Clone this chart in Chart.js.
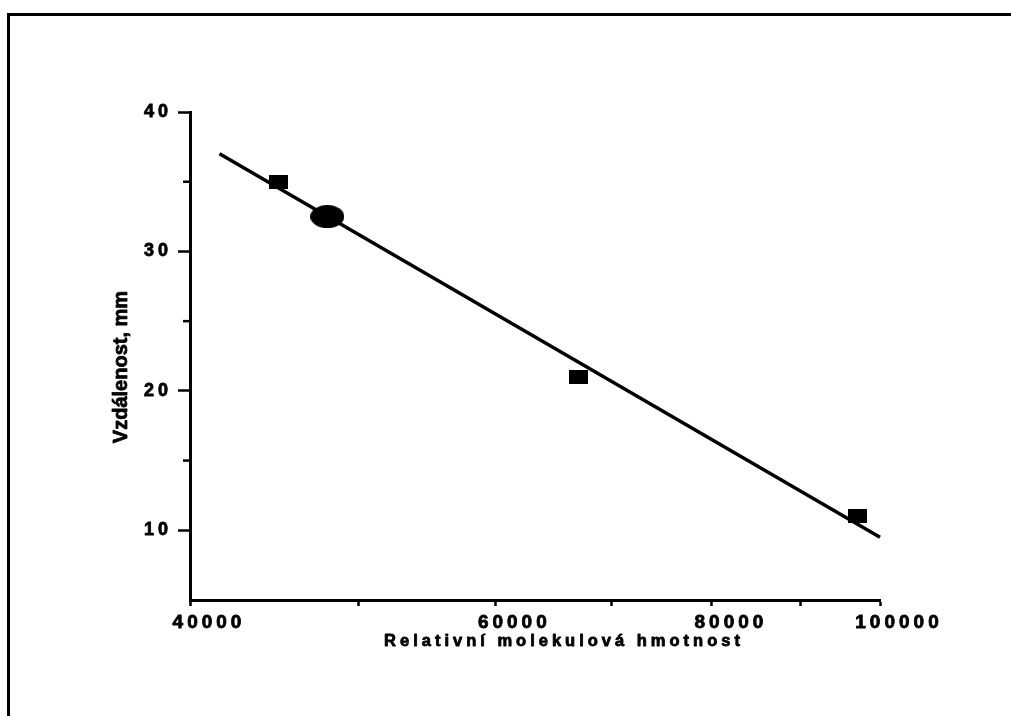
<!DOCTYPE html>
<html>
<head>
<meta charset="utf-8">
<script src="https://cdn.jsdelivr.net/npm/chart.js@4.4.0/dist/chart.umd.min.js"></script>
<style>
    html, body { margin: 0; padding: 0; background: #fff; }
</style>
</head>
<body>
<canvas id="myGraph" width="1011" height="716"></canvas>
<script>
// Standards (squares)
var standardMass = [45000, 67000, 97000];
var standardDist = [35, 21, 11];

// Unknown sample (ellipse)
var sampleMass = [48000];
var sampleDist = [32.5];

// Calibration line end points
var fitMass = [41600, 100000];
var fitDist = [37.0, 9.5];

// Ticks
var xMajor = [40000, 60000, 80000, 100000];
var xMinor = [50000, 70000, 90000];
var yMajor = [10, 20, 30, 40];
var yMinor = [15, 25, 35];

// Axis titles
var xTitle = 'Relativní molekulová hmotnost';
var yTitle = 'Vzdálenost, mm';

var family = '"Liberation Sans", Arial, sans-serif';

// Marker images
var makeMarker = (w, h, round) => {
    var c = document.createElement('canvas');
    c.width = w;
    c.height = h;
    var g = c.getContext('2d');
    g.fillStyle = '#000';
    if (round) {
        g.beginPath();
        g.ellipse(w / 2, h / 2, w / 2, h / 2, 0, 0, Math.PI * 2);
        g.fill();
    } else {
        g.fillRect(0, 0, w, h);
    }
    return c;
};

// Frame, minor y ticks, axis titles
var paperPlugin = {
    id: 'paper',
    beforeDraw: chart => {
        chart.ctx.letterSpacing = '4px';
    },
    afterDraw: chart => {
        var ctx = chart.ctx;
        var ys = chart.scales.y;
        ctx.save();
        ctx.letterSpacing = '0px';
        ctx.strokeStyle = '#000';
        ctx.lineWidth = 3;
        ctx.strokeRect(8.5, 14.5, 1100, 800);

        ctx.lineWidth = 2.5;
        yMinor.forEach(v => {
            var py = ys.getPixelForValue(v);
            ctx.beginPath();
            ctx.moveTo(ys.right - 7, py);
            ctx.lineTo(ys.right, py);
            ctx.stroke();
        });

        // heavier text like the scan
        ctx.fillStyle = '#000';
        ctx.lineWidth = 0.8;
        ctx.lineJoin = 'round';
        ctx.font = 'bold 16.5px ' + family;
        ctx.letterSpacing = '4px';
        ctx.textAlign = 'center';
        ctx.textBaseline = 'alphabetic';
        ctx.fillText(xTitle, 564, 646);
        ctx.strokeText(xTitle, 564, 646);

        ctx.letterSpacing = '0px';
        ctx.font = 'bold 20px ' + family;
        ctx.translate(127, 367);
        ctx.rotate(-Math.PI / 2);
        ctx.fillText(yTitle, 0, 0);
        ctx.strokeText(yTitle, 0, 0);
        ctx.restore();
        ctx.letterSpacing = '0px';
    }
};

var ctx = document.getElementById('myGraph').getContext('2d');

var chart = new Chart(ctx, {
    type: 'scatter',
    data: {
        datasets: [
            {
                label: 'Standards',
                data: standardMass.map((m, i) => ({ x: m, y: standardDist[i] })),
                pointStyle: makeMarker(19, 14, false),
                pointRadius: 10
            },
            {
                label: 'Sample',
                data: sampleMass.map((m, i) => ({ x: m, y: sampleDist[i] })),
                pointStyle: makeMarker(34, 23, true),
                pointRadius: 17
            },
            {
                label: 'Fit',
                data: fitMass.map((m, i) => ({ x: m, y: fitDist[i] })),
                showLine: true,
                borderColor: '#000',
                borderWidth: 3.5,
                pointRadius: 0,
                clip: false
            }
        ]
    },
    options: {
        responsive: false,
        animation: false,
        devicePixelRatio: 1,
        layout: { padding: { top: 112, right: 131, left: 0, bottom: 0 } },
        plugins: {
            legend: { display: false },
            tooltip: { enabled: false }
        },
        scales: {
            x: {
                type: 'logarithmic',
                min: 40000,
                max: 100000,
                afterBuildTicks: s => {
                    s.ticks = xMajor.concat(xMinor).sort((a, b) => a - b).map(v => ({ value: v }));
                },
                afterFit: s => { s.height = 116; },
                ticks: {
                    autoSkip: false,
                    maxRotation: 0,
                    padding: 5,
                    labelOffset: 19,
                    color: '#000',
                    textStrokeColor: '#000',
                    textStrokeWidth: 0.8,
                    font: { family: family, size: 19, weight: 'bold' },
                    callback: v => xMajor.includes(v) ? String(v) : ''
                },
                grid: { drawOnChartArea: false, tickLength: 6, tickWidth: 2.5, tickColor: '#000' },
                border: { color: '#000', width: 3 }
            },
            y: {
                min: 5,
                max: 40,
                afterBuildTicks: s => {
                    s.ticks = yMajor.map(v => ({ value: v }));
                },
                afterFit: s => { s.width = 190; },
                ticks: {
                    padding: 6,
                    color: '#000',
                    textStrokeColor: '#000',
                    textStrokeWidth: 0.8,
                    font: { family: family, size: 18, weight: 'bold' }
                },
                grid: { drawOnChartArea: false, tickLength: 12, tickWidth: 2.5, tickColor: '#000' },
                border: { color: '#000', width: 3 }
            }
        }
    },
    plugins: [paperPlugin]
});
</script>
</body>
</html>
